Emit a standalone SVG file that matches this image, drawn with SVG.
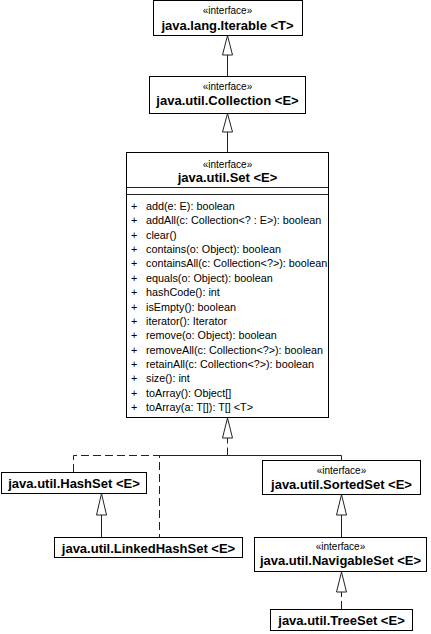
<svg xmlns="http://www.w3.org/2000/svg" width="431" height="634" viewBox="0 0 431 634">
<style>
.box{fill:#fff;stroke:#000;stroke-width:1}
.st{font-family:"Liberation Sans",Arial,sans-serif;font-size:10px;text-anchor:middle;fill:#000}
.tt{font-family:"Liberation Sans",Arial,sans-serif;font-size:13px;font-weight:bold;text-anchor:middle;fill:#000}
.op{font-family:"Liberation Sans",Arial,sans-serif;font-size:10.8px;fill:#000}
.ln{fill:none;stroke:#222;stroke-width:1}
.dash{fill:none;stroke:#222;stroke-width:1;stroke-dasharray:8,4}
.tri{fill:#fff;stroke:#222;stroke-width:1}
</style>
<rect width="431" height="634" fill="#fff"/>
<g id="connectors">
<path class="ln" d="M227.5,76.5 V55"/>
<polygon class="tri" points="227.5,35.5 222.5,55 232.5,55"/>
<path class="ln" d="M227.5,152.5 V132"/>
<polygon class="tri" points="227.5,113.5 222.5,132 232.5,132"/>
<path class="dash" d="M73.5,472 V455.5 H227.5"/>
<path class="dash" stroke-dashoffset="5" d="M159.5,537 V455.5 H227.5"/>
<path class="ln" d="M341.5,460 V455.5 H227.5"/>
<path class="dash" d="M227.5,455.5 V438"/>
<polygon class="tri" points="227.5,418 222.5,438 232.5,438"/>
<path class="ln" d="M101.5,537 V515"/>
<polygon class="tri" points="101.5,493.5 96.5,515 106.5,515"/>
<path class="ln" d="M341.5,537 V515"/>
<polygon class="tri" points="341.5,494.5 336.5,515 346.5,515"/>
<path class="dash" d="M341.5,609 V592"/>
<polygon class="tri" points="341.5,572 336.5,592 346.5,592"/>
</g>
<g id="iterable">
<rect class="box" x="153.5" y="0.5" width="149" height="35"/>
<text class="st" x="227.5" y="14">«interface»</text>
<text class="tt" x="227.5" y="29.5">java.lang.Iterable &lt;T&gt;</text>
</g>
<g id="collection">
<rect class="box" x="149.5" y="76.5" width="156" height="37"/>
<text class="st" x="227.5" y="90">«interface»</text>
<text class="tt" x="227.5" y="104.5">java.util.Collection &lt;E&gt;</text>
</g>
<g id="set">
<rect class="box" x="126.5" y="152.5" width="202" height="265"/>
<line class="ln" x1="126.5" y1="187.5" x2="328.5" y2="187.5" stroke="#000"/>
<line class="ln" x1="126.5" y1="194.5" x2="328.5" y2="194.5" stroke="#000"/>
<text class="st" x="227.5" y="168">«interface»</text>
<text class="tt" x="227.5" y="181.5">java.util.Set &lt;E&gt;</text>
<g class="op">
<text x="131" y="210">+</text><text x="146" y="210">add(e: E): boolean</text>
<text x="131" y="224.4">+</text><text x="146" y="224.4">addAll(c: Collection&lt;? : E&gt;): boolean</text>
<text x="131" y="238.7">+</text><text x="146" y="238.7">clear()</text>
<text x="131" y="253.1">+</text><text x="146" y="253.1">contains(o: Object): boolean</text>
<text x="131" y="267.4">+</text><text x="146" y="267.4">containsAll(c: Collection&lt;?&gt;): boolean</text>
<text x="131" y="281.8">+</text><text x="146" y="281.8">equals(o: Object): boolean</text>
<text x="131" y="296.2">+</text><text x="146" y="296.2">hashCode(): int</text>
<text x="131" y="310.5">+</text><text x="146" y="310.5">isEmpty(): boolean</text>
<text x="131" y="324.9">+</text><text x="146" y="324.9">iterator(): Iterator</text>
<text x="131" y="339.2">+</text><text x="146" y="339.2">remove(o: Object): boolean</text>
<text x="131" y="353.6">+</text><text x="146" y="353.6">removeAll(c: Collection&lt;?&gt;): boolean</text>
<text x="131" y="368">+</text><text x="146" y="368">retainAll(c: Collection&lt;?&gt;): boolean</text>
<text x="131" y="382.3">+</text><text x="146" y="382.3">size(): int</text>
<text x="131" y="396.7">+</text><text x="146" y="396.7">toArray(): Object[]</text>
<text x="131" y="411">+</text><text x="146" y="411">toArray(a: T[]): T[] &lt;T&gt;</text>
</g>
</g>
<g id="hashset">
<rect class="box" x="1.5" y="472.5" width="145" height="21"/>
<text class="tt" x="74" y="488">java.util.HashSet &lt;E&gt;</text>
</g>
<g id="linkedhashset">
<rect class="box" x="54.5" y="537.5" width="188" height="20"/>
<text class="tt" x="148.5" y="552.5">java.util.LinkedHashSet &lt;E&gt;</text>
</g>
<g id="sortedset">
<rect class="box" x="262.5" y="460.5" width="158" height="34"/>
<text class="st" x="341.5" y="474">«interface»</text>
<text class="tt" x="341.5" y="488.5">java.util.SortedSet &lt;E&gt;</text>
</g>
<g id="navigableset">
<rect class="box" x="254.5" y="537.5" width="172" height="34"/>
<text class="st" x="340.5" y="550">«interface»</text>
<text class="tt" x="340.5" y="564.5">java.util.NavigableSet &lt;E&gt;</text>
</g>
<g id="treeset">
<rect class="box" x="270.5" y="609.5" width="142" height="21"/>
<text class="tt" x="341.5" y="625">java.util.TreeSet &lt;E&gt;</text>
</g>
</svg>
